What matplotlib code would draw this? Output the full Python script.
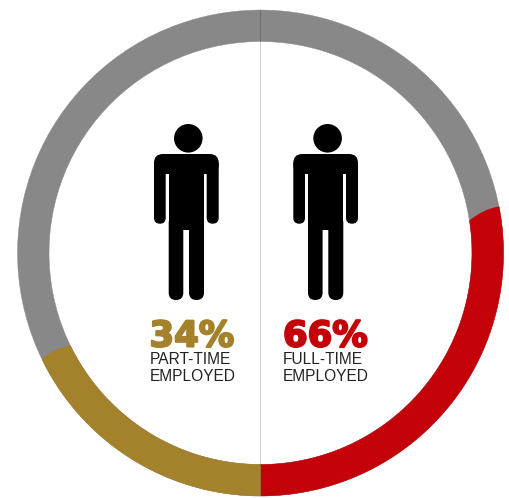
import numpy as np
import matplotlib
matplotlib.use("Agg")
import matplotlib.pyplot as plt
from matplotlib.path import Path
from matplotlib.patches import PathPatch, Circle, FancyBboxPatch
import matplotlib.patheffects as pe

# Values
segment_names = ["Full-time", "Part-time"]
segment_sweep_deg = [101, 64]          # arc drawn, measured from the bottom of the ring
percent_labels = ["34%", "66%"]
line_labels = [["PART-TIME", "EMPLOYED"], ["FULL-TIME", "EMPLOYED"]]

GREY, GOLD, RED, INK = "#888888", "#A4822C", "#C40008", "#222222"
CX, CY, R_OUT, R_IN = 260.5, 253.0, 243.0, 211.5

fig = plt.figure(figsize=(5.10, 4.98), dpi=100)
ax = fig.add_axes([0, 0, 1, 1])
ax.set_xlim(0, 510)
ax.set_ylim(498, 0)
ax.axis("off")


def pt(r, deg):
    """deg clockwise from 12 o'clock, in y-down pixel axes."""
    a = np.radians(deg)
    return (CX + r * np.sin(a), CY - r * np.cos(a))


def arc(r, a0, a1, n=120):
    return [pt(r, d) for d in np.linspace(a0, a1, n)]


def ring_segment(a_flat, a_end_out, a_end_in, color, z):
    """Ring piece: flat edge at a_flat, slightly bulged edge at the other end."""
    outer = arc(R_OUT, a_flat, a_end_out)
    inner = arc(R_IN, a_end_in, a_flat)
    mid_r = (R_OUT + R_IN) / 2
    mid_a = (a_end_out + a_end_in) / 2
    bulge = -1.2 if a_end_out < a_flat else 1.2
    ctrl = pt(mid_r, mid_a + bulge)
    verts = outer + [ctrl] + inner + [outer[0]]
    codes = ([Path.MOVETO] + [Path.LINETO] * (len(outer) - 1)
             + [Path.CURVE3] + [Path.CURVE3] + [Path.LINETO] * (len(inner) - 1)
             + [Path.CLOSEPOLY])
    ax.add_patch(PathPatch(Path(verts, codes), fc=color, ec=color, lw=0.3, zorder=z))


# Grey base ring
ring = arc(R_OUT, 0, 360) + arc(R_IN, 360, 0)
codes = [Path.MOVETO] + [Path.LINETO] * 119 + [Path.MOVETO] + [Path.LINETO] * 119
ax.add_patch(PathPatch(Path(ring, codes), fc=GREY, ec=GREY, lw=0.3, zorder=1))

# Coloured parts, both starting at the bottom
full_sweep, part_sweep = segment_sweep_deg
ring_segment(180, 180 - full_sweep, 180 - full_sweep + 2.2, RED, 2)
ring_segment(180, 180 + part_sweep, 180 + part_sweep, GOLD, 2)

# Thin centre rule
ax.plot([CX, CX], [CY - R_OUT, CY + R_IN], color="black", alpha=0.17, lw=0.8, zorder=3,
        solid_capstyle="butt")


def person(cx):
    c = "black"
    ax.add_patch(Circle((cx + 1.3, 138.3), 14.3, fc=c, ec="none", zorder=4))
    # shoulders
    ax.add_patch(FancyBboxPatch((cx - 33 + 9, 163), 64.7 - 18, 2,
                                boxstyle="round,pad=9", fc=c, ec="none", zorder=4))
    # arms
    for x0, x1 in [(cx - 33, cx - 21.3), (cx + 19.7, cx + 31.7)]:
        w = x1 - x0
        ax.add_patch(FancyBboxPatch((x0 + w / 2, 165), 0.01, 58.7 - w / 2,
                                    boxstyle=f"round,pad={w/2}", fc=c, ec="none", zorder=4))
    # torso
    ax.fill([cx - 18.3, cx + 17, cx + 17, cx - 18.3], [165, 165, 230, 230], color=c, lw=0, zorder=4)
    # legs
    for x0, x1 in [(cx - 18.3, cx - 3.7), (cx + 2, cx + 17)]:
        w = x1 - x0
        ax.add_patch(FancyBboxPatch((x0 + w / 2, 223), 0.01, 300 - 223 - w / 2,
                                    boxstyle=f"round,pad={w/2}", fc=c, ec="none", zorder=4))


person(187)
person(326.3)

pct_colors = [GOLD, RED]
left_x = [149.5, 283]
for i in range(2):
    ax.text(left_x[i], 346.5, percent_labels[i], family="DejaVu Sans", weight="bold",
            fontsize=25.5, color=pct_colors[i], ha="left", va="baseline", zorder=5,
            path_effects=[pe.withStroke(linewidth=1.5, foreground=pct_colors[i])])
    for j, s in enumerate(line_labels[i]):
        ax.text(left_x[i], 363.5 + 17.7 * j, s, family="Liberation Sans", fontsize=11.2,
                color=INK, ha="left", va="baseline", zorder=5)

fig.savefig("out.png", dpi=100, facecolor="white")
